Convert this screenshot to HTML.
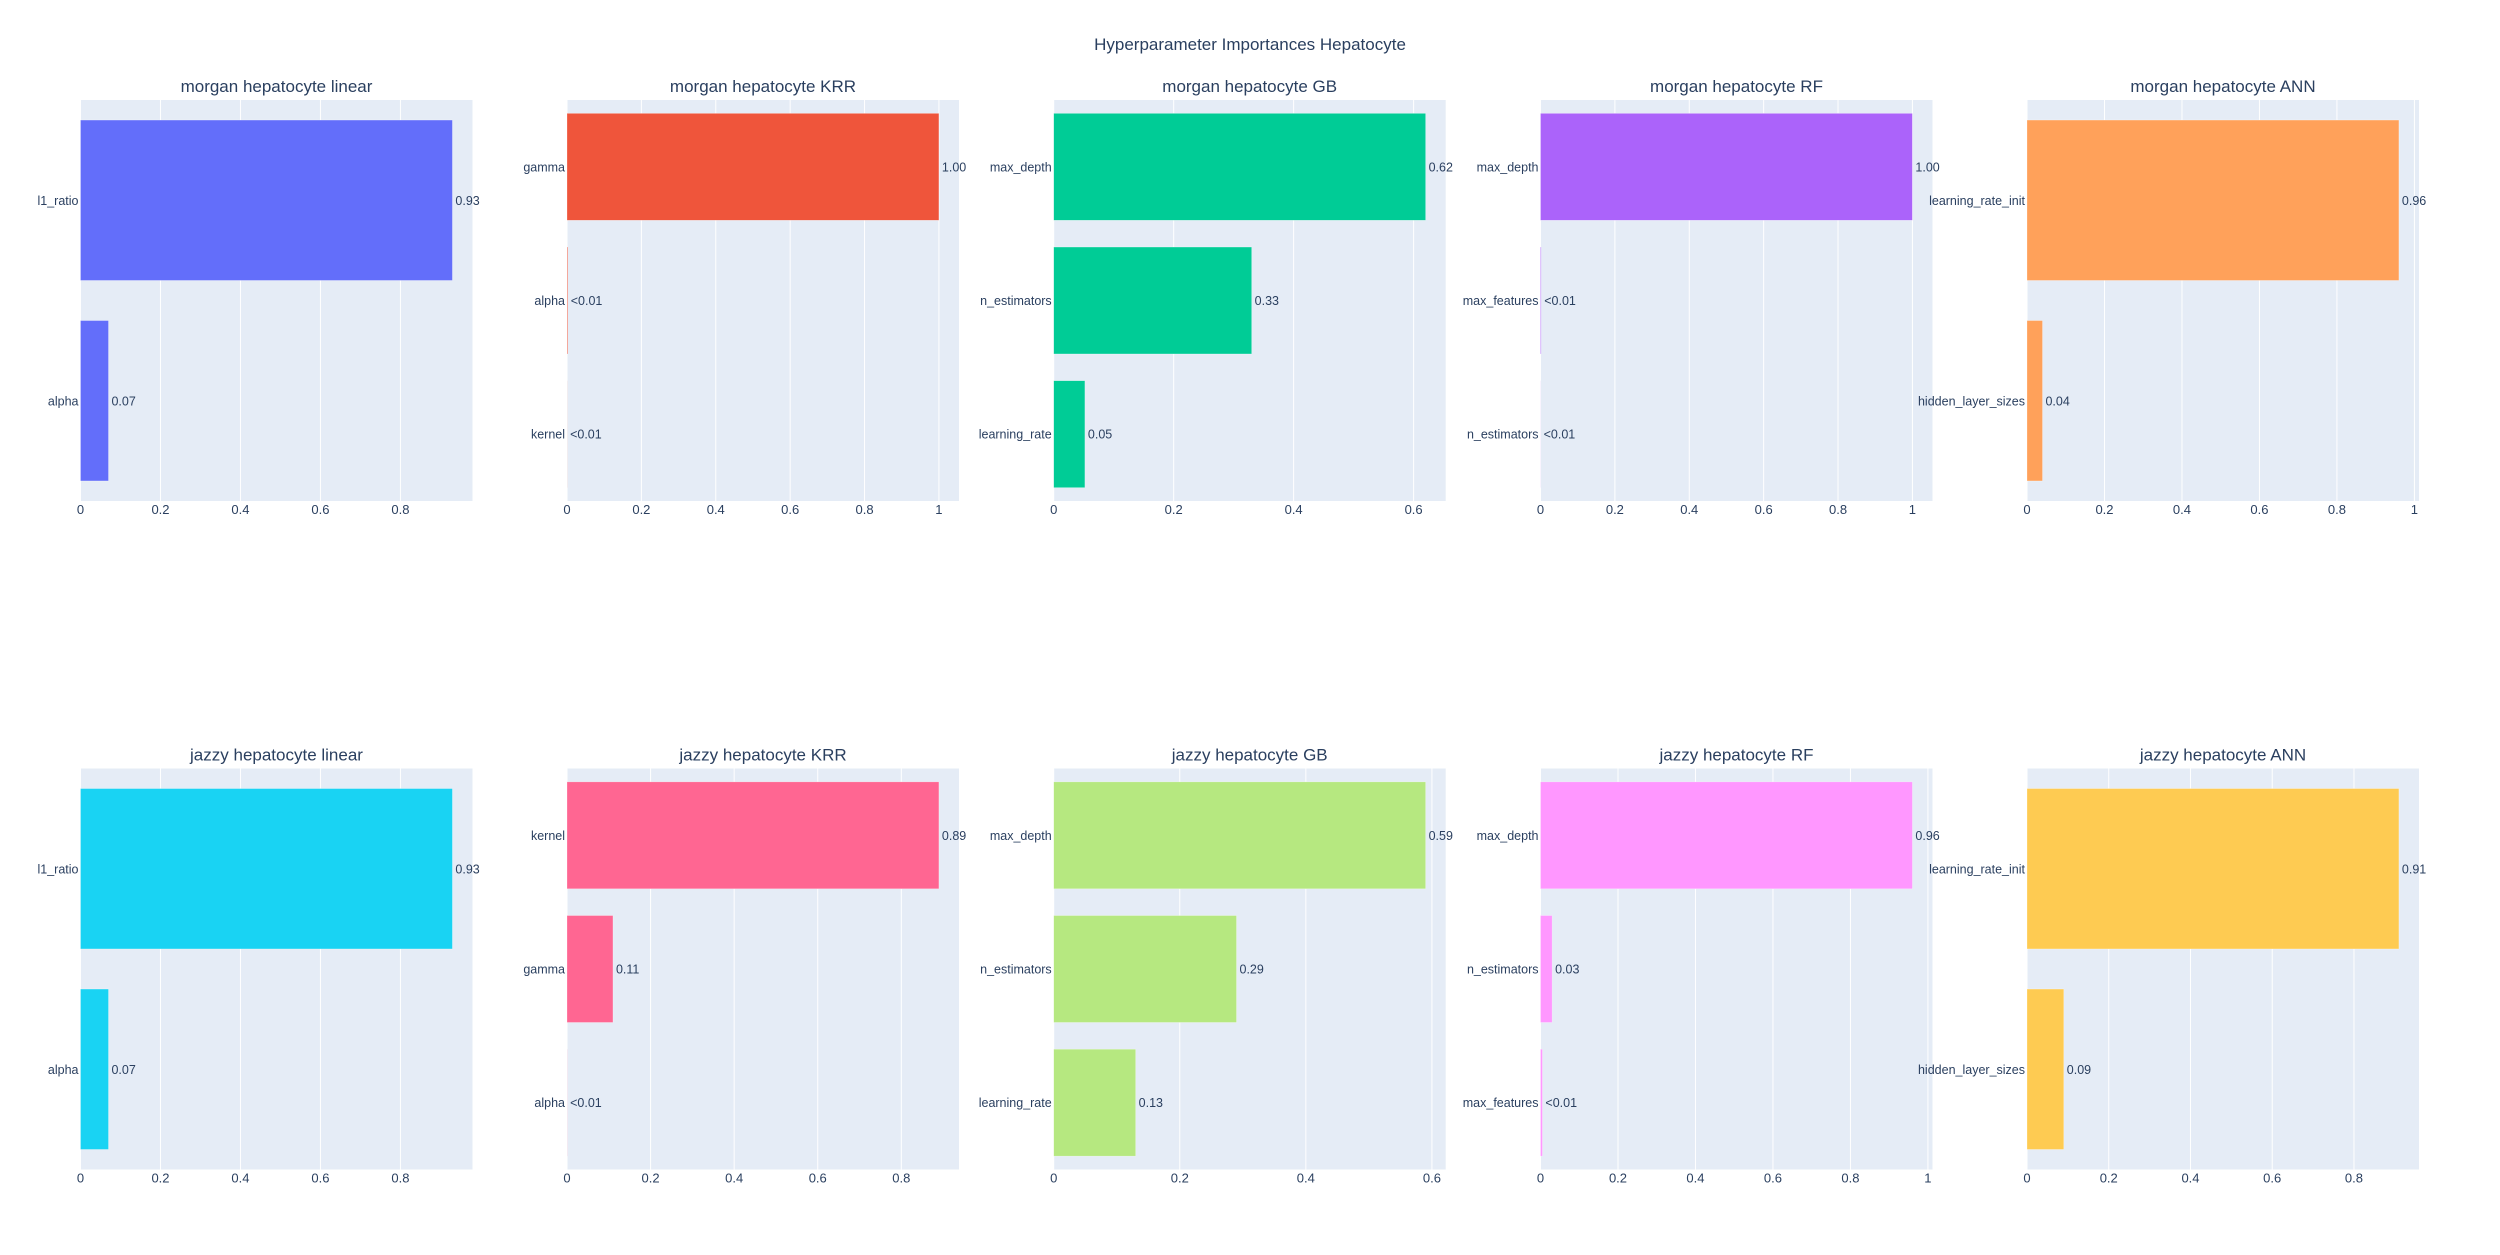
<!DOCTYPE html>
<html><head><meta charset="utf-8"><style>
html,body{margin:0;padding:0;background:#fff;}
svg text{font-family:"Liberation Sans",sans-serif;fill:#2a3f5f;}
</style></head><body>
<svg id="fig" width="2500" height="1250" viewBox="0 0 2500 1250" xmlns="http://www.w3.org/2000/svg">
<text x="1250" y="50" font-size="17" text-anchor="middle">Hyperparameter Importances Hepatocyte</text>
</svg>
<script>
// Panel data (categories top to bottom, values)
const titles = ["morgan hepatocyte linear","morgan hepatocyte KRR","morgan hepatocyte GB","morgan hepatocyte RF","morgan hepatocyte ANN",
"jazzy hepatocyte linear","jazzy hepatocyte KRR","jazzy hepatocyte GB","jazzy hepatocyte RF","jazzy hepatocyte ANN"];
const categories = [
["l1_ratio","alpha"],["gamma","alpha","kernel"],["max_depth","n_estimators","learning_rate"],["max_depth","max_features","n_estimators"],["learning_rate_init","hidden_layer_sizes"],
["l1_ratio","alpha"],["kernel","gamma","alpha"],["max_depth","n_estimators","learning_rate"],["max_depth","n_estimators","max_features"],["learning_rate_init","hidden_layer_sizes"]];
const values = [
[0.93,0.07],[1.00,0.002,0.0002],[0.62,0.33,0.052],[1.00,0.002,0.0003],[0.96,0.04],
[0.93,0.07],[0.89,0.11,0.0003],[0.59,0.29,0.13],[0.96,0.03,0.005],[0.91,0.09]];
const colors = ["#636efa","#EF553B","#00cc96","#ab63fa","#FFA15A","#19d3f3","#FF6692","#B6E880","#FF97FF","#FECB52"];
const tickValues = [0,0.2,0.4,0.6,0.8,1];

const svg = document.getElementById('fig');
const NS = "http://www.w3.org/2000/svg";
function mk(tag, attrs, parent){
  const e = document.createElementNS(NS, tag);
  for (const k in attrs) e.setAttribute(k, attrs[k]);
  (parent||svg).appendChild(e);
  return e;
}
const colX = [80.5, 567, 1053.7, 1540.5, 2027];
const rowY = [100, 768.5];
const PW = 392, PH = 401;
function fmt(v){ return v < 0.01 ? "<0.01" : v.toFixed(2); }

for (let p = 0; p < 10; p++) {
  const x0 = colX[p % 5], y0 = rowY[Math.floor(p / 5)];
  const cats = categories[p], vals = values[p];
  const maxV = Math.max(...vals);
  const xMax = maxV * 1.054;
  const xs = v => x0 + v / xMax * PW;
  const n = cats.length, band = PH / n;
  const ys = i => y0 + band * (i + 0.5);
  const g = mk('g', {});
  
  
  const bg = mk('rect', {x:x0, y:y0, width:PW, height:PH, fill:'#e5ecf6'}, g);
  
  
  tickValues.forEach(t => {
    if (t > xMax) return;
    const gl = mk('line', {x1:xs(t), x2:xs(t), y1:y0, y2:y0+PH, stroke:'#fff', 'stroke-width':1}, g);
    
    
    const tl = mk('text', {x:xs(t), y:y0+PH+13, 'font-size':13, 'text-anchor':'middle'}, g);
    tl.textContent = String(t);
    
    
  });
  const tt = mk('text', {x:x0+PW/2, y:y0-8, 'font-size':17, 'text-anchor':'middle'}, g);
  tt.textContent = titles[p];
  
  
  cats.forEach((c, i) => {
    const bh = band * 0.8, yc = ys(i);
    const b = mk('rect', {x:xs(0), y:yc-bh/2, width:Math.max(0, xs(vals[i])-xs(0)), height:bh, fill:colors[p], stroke:'rgba(255,255,255,0.5)', 'stroke-width':0.5}, g);
    
    
    const cl = mk('text', {x:x0-2, y:yc+4.5, 'font-size':12.5, 'text-anchor':'end'}, g);
    cl.textContent = c;
    
    
    const vl = mk('text', {x:xs(vals[i])+3, y:yc+4.5, 'font-size':12.5}, g);
    vl.textContent = fmt(vals[i]);
    
    
  });
}
</script>
</body></html>
